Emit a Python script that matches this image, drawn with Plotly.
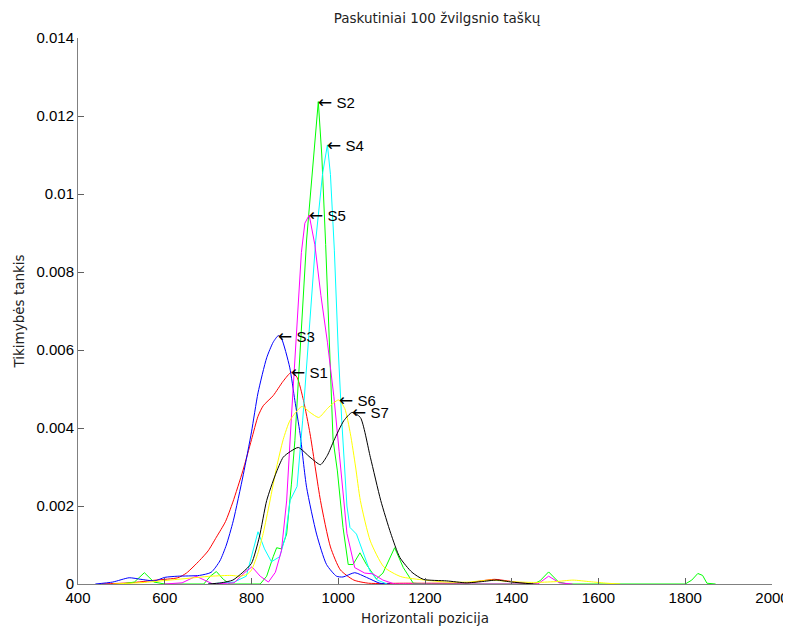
import plotly.graph_objects as go

# ---- data ----
names = ["S1", "S2", "S3", "S4", "S5", "S6", "S7"]
colors = ["#ff0000", "#00ff00", "#0000ff", "#00ffff", "#ff00ff", "#ffff00", "#000000"]

s1_x = [450, 520, 580, 630, 650, 680, 700, 719, 740, 757, 780, 800, 815, 827, 850, 873, 892, 905, 920, 935, 959, 982, 1005, 1036, 1070, 1150, 1300, 1330, 1360, 1390, 1420, 1460]
s1_y = [0, 0.00003, 0.0001, 0.00016, 0.00028, 0.0006, 0.00085, 0.0012, 0.0016, 0.0021, 0.0029, 0.0037, 0.0043, 0.00457, 0.00483, 0.0052, 0.00543, 0.0053, 0.0047, 0.00385, 0.00214, 0.00095, 0.00036, 0.0001, 0.00002, 0.00002, 0.00003, 0.00008, 0.00012, 0.00008, 0.00003, 0]

s2_x = [500, 530, 553, 575, 600, 690, 705, 719, 735, 750, 820, 835, 850, 858, 869, 881, 892, 900, 927, 954, 962, 971, 988, 998, 1011, 1023, 1034, 1050, 1065, 1088, 1103, 1130, 1150, 1173, 1200, 1450, 1465, 1485, 1508, 1530, 1800, 1815, 1829, 1840, 1850, 1870]
s2_y = [0, 0.00005, 0.00029, 0.00005, 0, 0, 0.0002, 0.00032, 0.00012, 0, 0, 0.0002, 0.0007, 0.00093, 0.0009, 0.00128, 0.00256, 0.00368, 0.00882, 0.01237, 0.011, 0.0087, 0.0037, 0.0029, 0.00145, 0.0005, 0.0005, 0.0008, 0.0005, 0.00013, 0.00028, 0.00093, 0.00042, 0.00002, 0, 0, 0.00008, 0.00031, 0.00005, 0, 0, 0.0001, 0.00027, 0.00022, 0.00002, 0]

s3_x = [440, 480, 518, 545, 577, 600, 630, 680, 707, 727, 742, 758, 781, 800, 815, 835, 850, 862, 869, 888, 900, 912, 927, 950, 973, 996, 1011, 1038, 1065, 1096, 1120]
s3_y = [0, 0.00005, 0.00016, 0.00012, 0.00008, 0.00017, 0.0002, 0.00022, 0.0003, 0.00059, 0.001, 0.00162, 0.0028, 0.0039, 0.0049, 0.0058, 0.0062, 0.00637, 0.0063, 0.00556, 0.0047, 0.00385, 0.00248, 0.00128, 0.0005, 0.0002, 0.00018, 0.00029, 0.00017, 0.00002, 0]

s4_x = [700, 760, 788, 805, 815, 830, 846, 865, 878, 889, 905, 918, 935, 948, 964, 975, 982, 991, 1000, 1008, 1020, 1027, 1042, 1057, 1073, 1090, 1113]
s4_y = [0, 0.00005, 0.0002, 0.0009, 0.00134, 0.0009, 0.00057, 0.0007, 0.0012, 0.00214, 0.0025, 0.0042, 0.0068, 0.0088, 0.01053, 0.01126, 0.0105, 0.00856, 0.006, 0.0042, 0.002, 0.00145, 0.00128, 0.0008, 0.00033, 0.0001, 0]

s5_x = [600, 640, 672, 690, 711, 760, 785, 801, 820, 839, 855, 869, 881, 892, 900, 915, 923, 933, 946, 960, 975, 990, 1002, 1010, 1020, 1038, 1061, 1080, 1103, 1130, 1460, 1485, 1510, 1540]
s5_y = [0, 0.00003, 0.0002, 0.0001, 0, 0.00003, 0.0003, 0.00044, 0.0002, 0.00005, 0.0003, 0.00085, 0.00213, 0.00428, 0.0058, 0.0085, 0.00925, 0.00946, 0.0087, 0.0074, 0.0062, 0.0048, 0.0034, 0.0025, 0.0013, 0.00042, 0.00028, 0.00026, 0.0001, 0, 0, 0.0002, 0.00003, 0]

s6_x = [480, 553, 630, 707, 753, 773, 790, 800, 815, 827, 842, 858, 873, 889, 916, 935, 955, 975, 990, 1001, 1015, 1028, 1040, 1051, 1074, 1105, 1144, 1200, 1250, 1300, 1350, 1400, 1450, 1500, 1541, 1580, 1620, 1650]
s6_y = [0, 0.00004, 0.00012, 0.0002, 0.00022, 0.0002, 0.00025, 0.00036, 0.0008, 0.0013, 0.0021, 0.003, 0.0037, 0.0042, 0.00455, 0.0044, 0.00427, 0.0045, 0.00465, 0.00472, 0.0045, 0.00385, 0.003, 0.00214, 0.0011, 0.00044, 0.00019, 0.0001, 0.00005, 0.00005, 0.0001, 0.00006, 0.00004, 0.00006, 0.0001, 0.00006, 0.00002, 0]

s7_x = [700, 730, 757, 780, 800, 818, 835, 855, 873, 890, 908, 935, 959, 975, 990, 1013, 1032, 1051, 1074, 1098, 1121, 1142, 1170, 1196, 1250, 1295, 1330, 1365, 1400, 1450]
s7_y = [0, 0.00003, 0.0001, 0.0003, 0.00053, 0.0012, 0.00214, 0.0028, 0.00325, 0.0034, 0.0035, 0.00325, 0.00306, 0.0033, 0.00368, 0.00419, 0.0044, 0.00427, 0.00325, 0.00214, 0.0013, 0.00068, 0.0003, 0.00012, 0.00008, 0.00003, 0.00006, 0.0001, 0.00005, 0]

xs = [s1_x, s2_x, s3_x, s4_x, s5_x, s6_x, s7_x]
ys = [s1_y, s2_y, s3_y, s4_y, s5_y, s6_y, s7_y]
shapes_line = ["spline", "linear", "spline", "linear", "linear", "spline", "spline"]

x_ticks = [400, 600, 800, 1000, 1200, 1400, 1600, 1800, 2000]
y_ticks = [0, 0.002, 0.004, 0.006, 0.008, 0.01, 0.012, 0.014]
y_ticktext = ["0", "0.002", "0.004", "0.006", "0.008", "0.01", "0.012", "0.014"]

fig = go.Figure()
for n, c, x, y, sh in zip(names, colors, xs, ys, shapes_line):
    line = dict(color=c, width=1, shape=sh)
    if sh == "spline":
        line["smoothing"] = 0.6
    fig.add_trace(go.Scatter(x=x, y=y, mode="lines", name=n, line=line, showlegend=False))

# peak labels
for n, x, y in zip(names, xs, ys):
    i = max(range(len(y)), key=lambda k: y[k])
    fig.add_annotation(x=x[i], y=y[i],
                       text='<span style="font-family:DejaVu Sans;font-size:17px">\u2190</span> ' + n,
                       showarrow=False, xanchor="left", yanchor="middle", borderpad=0, xshift=-1,
                       font=dict(family="Liberation Sans, Arial, sans-serif", size=15, color="#000"))

axis_common = dict(showgrid=False, zeroline=False, showline=True, linecolor="#808080", linewidth=1,
                   ticks="inside", ticklen=6, tickcolor="#606060", tickwidth=1, automargin=False,
                   tickfont=dict(family="Liberation Sans, Arial, sans-serif", size=15, color="#000"),
                   mirror=False)

# The page body has an 8px default margin, so the figure is sized/offset to compensate.
W, H = 783, 618
fig.update_layout(
    width=W, height=H,
    margin=dict(l=70, r=19, t=30, b=42, autoexpand=False),
    paper_bgcolor="white", plot_bgcolor="white",
    title=dict(text="Paskutiniai 100 žvilgsnio taškų", x=(437 - 8) / W, xanchor="center",
               y=1 - 10 / H, yanchor="middle", automargin=False,
               font=dict(family="DejaVu Sans", size=13.5, color="#222")),
    xaxis=dict(range=[400, 2000], tickvals=x_ticks, ticktext=[str(v) for v in x_ticks],
               title=dict(text="Horizontali pozicija", font=dict(family="DejaVu Sans", size=13.5, color="#222"), standoff=11),
               **axis_common),
    yaxis=dict(range=[0, 0.014], tickvals=y_ticks, ticktext=y_ticktext,
               title=dict(text="Tikimybės tankis", font=dict(family="DejaVu Sans", size=13.5, color="#222"), standoff=8),
               **axis_common),
)

fig.write_html("out.html")
